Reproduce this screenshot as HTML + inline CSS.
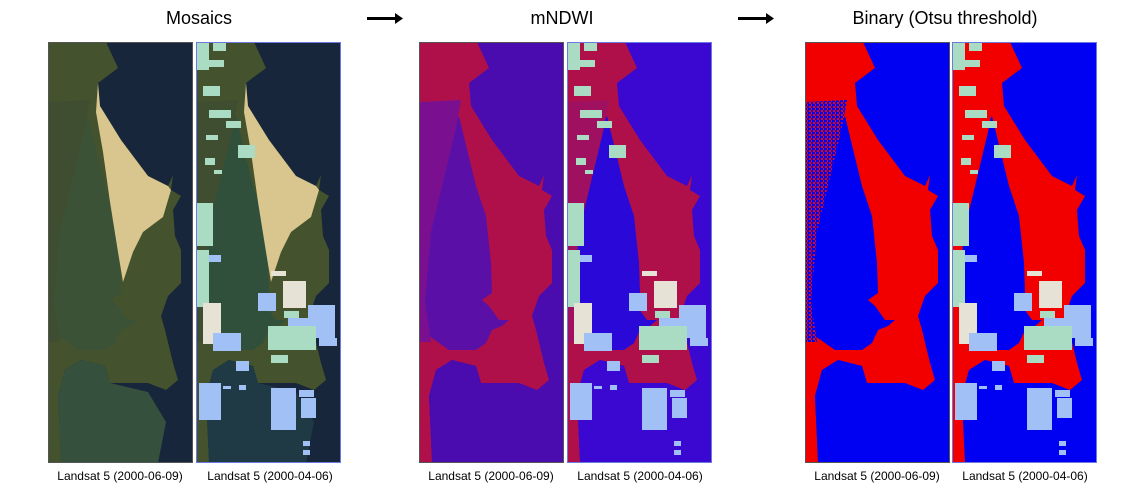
<!DOCTYPE html>
<html><head><meta charset="utf-8"><style>
body{margin:0;background:#fff;width:1132px;height:488px;overflow:hidden;font-family:"Liberation Sans",sans-serif}
</style></head><body>
<svg id="root" width="1132" height="488" viewBox="0 0 1132 488" xmlns="http://www.w3.org/2000/svg">
<defs>
<pattern id="noiseB" width="4" height="4" patternUnits="userSpaceOnUse"><rect width="4" height="4" fill="#0000f2"/><rect width="2" height="2" fill="#f20000"/><rect x="2" y="2" width="1" height="2" fill="#f20000"/></pattern>
</defs>
<text x="199" y="24" font-size="18" text-anchor="middle" font-family="Liberation Sans,sans-serif">Mosaics</text>
<text x="562" y="24" font-size="18" text-anchor="middle" font-family="Liberation Sans,sans-serif">mNDWI</text>
<text x="945" y="24" font-size="18" text-anchor="middle" font-family="Liberation Sans,sans-serif">Binary (Otsu threshold)</text>
<g><rect x="367" y="17" width="28" height="3" fill="#000"/><polygon points="395,13 403,18.5 395,24" fill="#000"/></g>
<g><rect x="738" y="17" width="28" height="3" fill="#000"/><polygon points="766,13 774,18.5 766,24" fill="#000"/></g>
<g id="panels"></g>
<g font-size="12" text-anchor="middle" font-family="Liberation Sans,sans-serif">
<text x="120" y="480">Landsat 5 (2000-06-09)</text>
<text x="270" y="480">Landsat 5 (2000-04-06)</text>
<text x="491" y="480">Landsat 5 (2000-06-09)</text>
<text x="640" y="480">Landsat 5 (2000-04-06)</text>
<text x="877" y="480">Landsat 5 (2000-06-09)</text>
<text x="1025" y="480">Landsat 5 (2000-04-06)</text>
</g>
</svg>
<script>
const NS="http://www.w3.org/2000/svg";
const ocean="58,0 70,26 50,41 52,64 73,98 100,134 120,144 125,133 123,148 133,154 125,168 127,194 133,208 133,241 120,254 113,274 117,288 125,321 130,338 118,348 100,341 62,341 57,324 33,318 17,328 10,354 13,418 17,421 145,421 145,0";
const lagoon="40,74 57,144 67,174 72,221 73,251 63,258 70,264 80,278 90,278 83,284 73,288 67,301 57,308 30,308 10,294 3,254 10,188 23,138 30,88";
const noise="0,60 42,58 36,90 24,140 12,190 6,260 12,300 0,300";
const bay="62,341 57,324 33,318 17,328 10,354 13,421 110,421 118,380 100,350";
const sand="50,41 52,64 73,98 100,134 120,144 123,148 115,175 95,190 85,210 75,240 70,210 62,160 55,110 48,70";
const patches=[["g",17,0,13,9],["g",13,18,15,7],["g",0,1,13,27],["g",7,44,17,10],["g",13,68,22,8],["g",30,79,15,7],["g",10,93,12,5],["g",42,103,17,13],["g",9,116,10,7],["g",18,128,8,4],["g",0,161,17,43],["b",13,213,12,7],["g",0,208,13,57],["w",7,261,18,41],["b",17,291,28,18],["b",40,319,13,10],["b",3,341,22,37],["w",75,229,15,5],["w",87,239,23,27],["b",62,251,18,18],["g",88,269,15,7],["b",92,276,28,27],["b",112,263,27,33],["g",72,284,48,24],["b",123,296,18,8],["g",75,313,17,8],["b",75,346,25,42],["b",103,348,15,7],["b",105,356,15,20],["b",27,344,8,3],["b",43,343,7,5],["b",107,399,7,5],["b",107,408,7,5]];
const pc={g:"#a9dcc2",b:"#a0c0f6",w:"#e6e2d6"};
const panels=[
 {x:48,name:"mosaic-1",land:"#45522e",sea:"#17263a",lag:"#3c5236",sand:"#d8c68e",bay:"#36503e",noise:"#3f4e30",ov:false},
 {x:196,name:"mosaic-2",land:"#45522e",sea:"#17263a",lag:"#30503c",sand:"#d8c68e",bay:"#1f3a44",noise:"#3f4e30",ov:true},
 {x:419,name:"mndwi-1",land:"#b0104a",sea:"#4a0cae",lag:"#5a10a6",sand:null,bay:"#4a0cae",noise:"#7a1090",ov:false},
 {x:567,name:"mndwi-2",land:"#b0104a",sea:"#3a08d0",lag:"#2a08d8",sand:null,bay:"#3a08d0",noise:"#a01060",ov:true},
 {x:805,name:"binary-1",land:"#f20000",sea:"#0000f2",lag:"#0000f2",sand:null,bay:"#0000f2",noise:"url(#noiseB)",ov:false},
 {x:952,name:"binary-2",land:"#f20000",sea:"#0000f2",lag:"#0000f2",sand:null,bay:"#0000f2",noise:"#f20000",ov:true}];
const root=document.getElementById("panels");
function mk(t,a,p){const e=document.createElementNS(NS,t);for(const k in a)e.setAttribute(k,a[k]);p.appendChild(e);return e;}
panels.forEach(P=>{
 const s=mk("svg",{x:P.x,y:42,width:145,height:421,viewBox:"0 0 145 421",preserveAspectRatio:"none"},root);
 
 
 mk("rect",{x:0,y:0,width:145,height:421,fill:P.land},s);
 mk("polygon",{points:ocean,fill:P.sea},s);
 mk("polygon",{points:bay,fill:P.bay},s);
 mk("polygon",{points:lagoon,fill:P.lag},s);
 mk("polygon",{points:noise,fill:P.noise},s);
 if(P.sand) mk("polygon",{points:sand,fill:P.sand},s);
 if(P.ov){patches.forEach(q=>{mk("rect",{x:q[1],y:q[2],width:q[3],height:q[4],fill:pc[q[0]]},s);});}
 mk("rect",{x:0.5,y:0.5,width:144,height:420,fill:"none",stroke:P.ov?"#6a7ae0":"#555",'stroke-width':1},s);
});
</script>
</body></html>
